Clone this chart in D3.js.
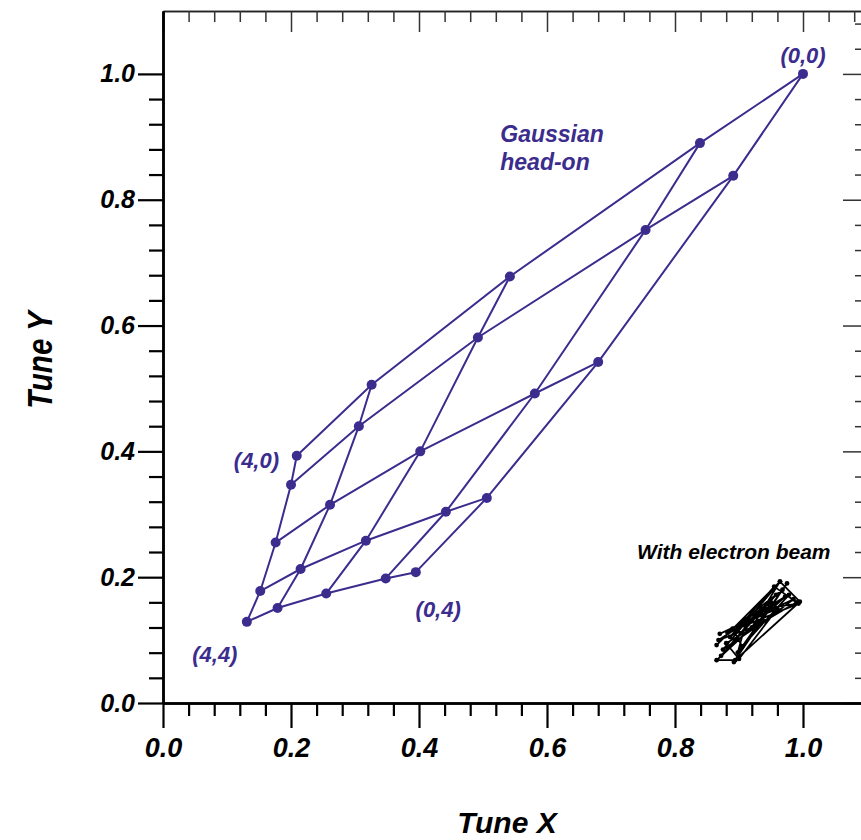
<!DOCTYPE html>
<html>
<head>
<meta charset="utf-8">
<script src="https://cdn.jsdelivr.net/npm/d3@7"></script>
<style>
  body { margin: 0; background: #fff; }
  svg { display: block; }
</style>
</head>
<body>
<div id="vis1"></div>
<script>
const frame_width = 861;
const frame_height = 840;
const purple = "#3b2c8e";

// footprint tunes, row j (0..4), column i (0..4) -> point (i,j)
const tune_x = [
    [1.000, 0.839, 0.542, 0.326, 0.209],
    [0.891, 0.754, 0.492, 0.306, 0.200],
    [0.680, 0.581, 0.402, 0.261, 0.176],
    [0.506, 0.442, 0.317, 0.215, 0.152],
    [0.395, 0.348, 0.255, 0.179, 0.131]
];
const tune_y = [
    [1.000, 0.890, 0.678, 0.506, 0.393],
    [0.838, 0.752, 0.581, 0.440, 0.347],
    [0.542, 0.492, 0.400, 0.315, 0.255],
    [0.326, 0.304, 0.258, 0.213, 0.178],
    [0.208, 0.198, 0.174, 0.151, 0.129]
];

// with electron beam (tangled small footprint)
const eb_x = [0.865, 0.964, 0.995, 0.894, 0.865, 0.972, 0.930, 0.886, 0.955, 0.990,
              0.880, 0.900, 0.960, 0.870, 0.985, 0.940, 0.875, 0.964, 0.920, 0.868,
              0.978, 0.905, 0.890, 0.950, 0.892, 0.968, 0.882, 0.993, 0.935, 0.872,
              0.958, 0.910, 0.898, 0.975];
const eb_y = [0.092, 0.193, 0.161, 0.068, 0.068, 0.169, 0.143, 0.105, 0.185, 0.160,
              0.095, 0.070, 0.150, 0.110, 0.165, 0.130, 0.085, 0.193, 0.120, 0.100,
              0.172, 0.090, 0.118, 0.160, 0.065, 0.180, 0.112, 0.158, 0.150, 0.075,
              0.172, 0.125, 0.080, 0.190];

const major_ticks = [0.0, 0.2, 0.4, 0.6, 0.8, 1.0];

const point_labels = ["(0,0)", "(4,0)", "(0,4)", "(4,4)"];
const point_label_x = [1.000, 0.146, 0.430, 0.081];
const point_label_y = [1.017, 0.374, 0.137, 0.065];

const frame1 = d3.select("#vis1")
    .append("svg")
        .attr("width", frame_width)
        .attr("height", frame_height);

frame1.append("rect")
    .attr("width", frame_width)
    .attr("height", frame_height)
    .attr("fill", "#fff");

const x_scale = d3.scaleLinear().domain([0, 1.1]).range([163, 867]);
const y_scale = d3.scaleLinear().domain([0, 1.1]).range([703, 11]);

const minor_all = d3.range(0, 28).filter((k) => k % 5 !== 0).map((k) => k * 0.04);
const minor_low = minor_all.filter((v) => v < 1.0);
const major_all = d3.range(0, 28).filter((k) => k % 5 === 0).map((k) => k * 0.04);

const font = "'Liberation Sans', Arial, sans-serif";

// top axis (ticks pointing in)
const top_g = frame1.append("g").attr("transform", "translate(0," + y_scale(1.1) + ")");
top_g.append("g").call(d3.axisBottom(x_scale).tickValues(major_all).tickSize(21).tickSizeOuter(0).tickFormat(""));
top_g.append("g").call(d3.axisBottom(x_scale).tickValues(minor_all).tickSize(11).tickSizeOuter(0).tickFormat(""));
top_g.selectAll("path").attr("stroke", "#222").attr("stroke-width", 1.5);
top_g.selectAll("line").attr("stroke", "#333").attr("stroke-width", 1.5);

// right axis (ticks pointing in)
const right_g = frame1.append("g").attr("transform", "translate(" + x_scale(1.1) + ",0)");
right_g.append("g").call(d3.axisLeft(y_scale).tickValues(major_all).tickSize(24).tickSizeOuter(0).tickFormat(""));
right_g.append("g").call(d3.axisLeft(y_scale).tickValues(minor_all).tickSize(12).tickSizeOuter(0).tickFormat(""));
right_g.selectAll("line").attr("stroke", "#333").attr("stroke-width", 1.5);

// left axis
const left_g = frame1.append("g").attr("transform", "translate(" + x_scale(0) + ",0)");
left_g.append("g").call(d3.axisLeft(y_scale).tickValues(minor_low).tickSize(14).tickSizeOuter(0).tickFormat(""));
left_g.append("g").call(d3.axisLeft(y_scale).tickValues(major_ticks).tickSize(25).tickSizeOuter(0)
        .tickPadding(3).tickFormat(d3.format(".1f")));
left_g.selectAll("path").attr("stroke", "#000").attr("stroke-width", 2.5);
left_g.selectAll("line").attr("stroke", "#000").attr("stroke-width", 2.2);
left_g.selectAll("text")
    .attr("font-family", font).attr("font-size", 25)
    .attr("font-weight", "bold").attr("font-style", "italic").attr("fill", "#000");

// bottom axis
const bottom_g = frame1.append("g").attr("transform", "translate(0," + y_scale(0) + ")");
bottom_g.append("g").call(d3.axisBottom(x_scale).tickValues(minor_low).tickSize(13).tickSizeOuter(0).tickFormat(""));
bottom_g.append("g").call(d3.axisBottom(x_scale).tickValues(major_ticks).tickSize(25).tickSizeOuter(0)
        .tickPadding(10).tickFormat(d3.format(".1f")));
bottom_g.selectAll("path").attr("stroke", "#000").attr("stroke-width", 2.5);
bottom_g.selectAll("line").attr("stroke", "#000").attr("stroke-width", 2.2);
bottom_g.selectAll("text")
    .attr("font-family", font).attr("font-size", 27)
    .attr("font-weight", "bold").attr("font-style", "italic").attr("fill", "#000");

// axis titles
frame1.append("text")
    .attr("x", 507).attr("y", 833)
    .attr("text-anchor", "middle")
    .attr("font-family", font).attr("font-size", 30)
    .attr("font-weight", "bold").attr("font-style", "italic")
    .text("Tune X");

frame1.append("text")
    .attr("transform", "translate(52,360) rotate(-90) scale(0.82,1)")
    .attr("text-anchor", "middle")
    .attr("font-family", font)
    .attr("font-size", 36)
    .attr("font-weight", "bold").attr("font-style", "italic")
    .text("Tune Y");

// footprint grid lines
const line = d3.line().x((d) => x_scale(d[0])).y((d) => y_scale(d[1]));
const rows = d3.range(5).map((j) => d3.range(5).map((i) => [tune_x[j][i], tune_y[j][i]]));
const cols = d3.range(5).map((i) => d3.range(5).map((j) => [tune_x[j][i], tune_y[j][i]]));

frame1.selectAll(".grid-line")
    .data(rows.concat(cols))
    .enter()
    .append("path")
        .attr("class", "grid-line")
        .attr("d", line)
        .attr("fill", "none")
        .attr("stroke", purple)
        .attr("stroke-width", 2);

frame1.selectAll(".dot")
    .data(rows.flat())
    .enter()
    .append("circle")
        .attr("class", "dot")
        .attr("cx", (d) => x_scale(d[0]))
        .attr("cy", (d) => y_scale(d[1]))
        .attr("r", 5)
        .attr("fill", purple);

// electron beam footprint
const eb = eb_x.map((v, k) => [v, eb_y[k]]);
frame1.append("path")
    .attr("d", line(eb))
    .attr("fill", "none")
    .attr("stroke", "#000")
    .attr("stroke-width", 1.8)
    .attr("stroke-linejoin", "round");
frame1.selectAll(".eb-dot")
    .data(eb)
    .enter()
    .append("circle")
        .attr("class", "eb-dot")
        .attr("cx", (d) => x_scale(d[0]))
        .attr("cy", (d) => y_scale(d[1]))
        .attr("r", 2.4)
        .attr("fill", "#000");

// annotations
frame1.selectAll(".pt-label")
    .data(point_labels)
    .enter()
    .append("text")
        .attr("class", "pt-label")
        .attr("x", (d, k) => x_scale(point_label_x[k]))
        .attr("y", (d, k) => y_scale(point_label_y[k]))
        .attr("text-anchor", "middle")
        .attr("font-family", font).attr("font-size", 22)
        .attr("font-weight", "bold").attr("font-style", "italic")
        .attr("fill", purple)
        .text((d) => d);

frame1.append("text")
    .attr("x", x_scale(0.527)).attr("y", y_scale(0.892))
    .attr("font-family", font).attr("font-size", 23)
    .attr("font-weight", "bold").attr("font-style", "italic")
    .attr("fill", purple)
    .text("Gaussian");
frame1.append("text")
    .attr("x", x_scale(0.527)).attr("y", y_scale(0.847))
    .attr("font-family", font).attr("font-size", 23)
    .attr("font-weight", "bold").attr("font-style", "italic")
    .attr("fill", purple)
    .text("head-on");

frame1.append("text")
    .attr("x", 637).attr("y", 559)
    .attr("font-family", font).attr("font-size", 21)
    .attr("font-weight", "bold").attr("font-style", "italic")
    .attr("fill", "#000")
    .text("With electron beam");
</script>
</body>
</html>
